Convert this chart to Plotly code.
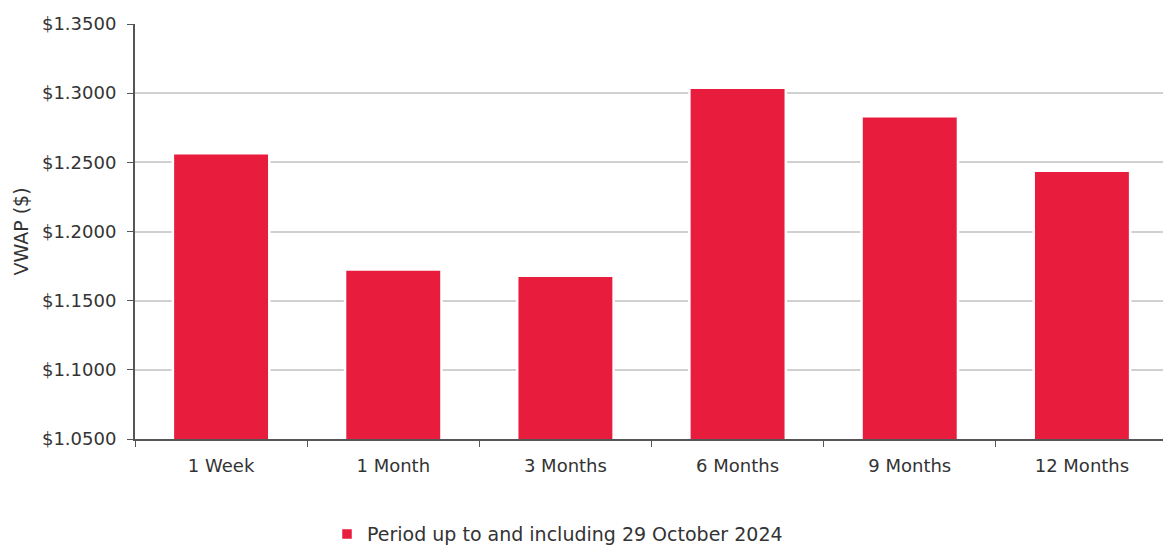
import plotly.graph_objects as go

categories = ["1 Week", "1 Month", "3 Months", "6 Months", "9 Months", "12 Months"]
vwap = [1.2566, 1.1726, 1.1680, 1.3039, 1.2834, 1.2439]
series_name = "Period up to and including 29 October 2024"
y_ticks = [1.05, 1.10, 1.15, 1.20, 1.25, 1.30, 1.35]
y_tick_labels = ["$%.4f" % v for v in y_ticks]

font_family = "DejaVu Sans, sans-serif"
text_color = "#333333"
fs = 18

fig = go.Figure()
fig.add_trace(go.Bar(
    x=categories, y=vwap, name=series_name,
    marker=dict(color="#E81C3C", line=dict(color="white", width=2.5)),
))

fig.update_layout(
    width=1163, height=539,
    margin=dict(l=127, r=3, t=16, b=108, autoexpand=False),
    paper_bgcolor="white", plot_bgcolor="white",
    font=dict(family=font_family, size=fs, color=text_color),
    bargap=0.44,
    showlegend=True,
    legend=dict(orientation="h", x=0.2743, xanchor="left", xref="container",
                y=0.024, yanchor="middle", yref="container",
                font=dict(size=19, color=text_color), itemwidth=30),
    xaxis=dict(
        showline=True, linecolor="#555555", linewidth=2,
        ticks="outside", tickson="boundaries", ticklen=6, tickcolor="#555555",
        showgrid=False, tickfont=dict(size=fs, color=text_color),
        automargin=False, ticklabelstandoff=9,
    ),
    yaxis=dict(
        range=[1.05, 1.35], tickvals=y_ticks, ticktext=y_tick_labels,
        showline=True, linecolor="#555555", linewidth=2,
        ticks="outside", ticklen=6, tickcolor="#555555",
        showgrid=True, gridcolor="#d0d0d0", gridwidth=2,
        zeroline=False, tickfont=dict(size=fs, color=text_color),
        automargin=False, ticklabelstandoff=7,
        title=dict(text="VWAP ($)", font=dict(size=19, color=text_color), standoff=8),
    ),
)

fig.write_html("out.html")
